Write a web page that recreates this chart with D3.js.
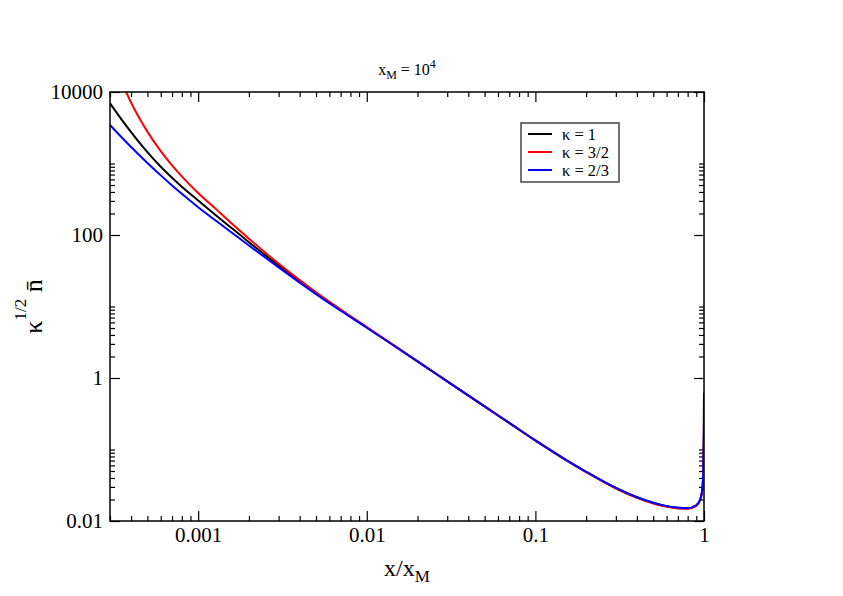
<!DOCTYPE html>
<html>
<head>
<meta charset="utf-8">
<script src="https://cdn.jsdelivr.net/npm/d3@7"></script>
<style>
  body { margin: 0; background: #fff; }
  text { font-family: "Liberation Serif", "Times New Roman", serif; fill: #000; }
</style>
</head>
<body>
<div id="chart"></div>
<script>
var w = 843;
var h = 596;
var plot = {l: 110, r: 704, t: 92, b: 521};

// x / x_M sample points
var xs = [3e-4, 3.5e-4, 4e-4, 5e-4, 6e-4, 7e-4, 8e-4, 1e-3, 1.3e-3, 1.6e-3, 2e-3, 2.8e-3,
          4e-3, 5e-3, 7e-3, 0.01, 0.015, 0.02, 0.03, 0.05, 0.07, 0.1, 0.15, 0.2, 0.3,
          0.4, 0.5, 0.6, 0.7, 0.8, 0.9, 0.95, 0.98, 0.99, 0.995, 0.999, 0.9999];

var yKappa1 = [6950, 4169, 2754, 1445, 902, 631, 473, 304, 181, 122, 79.4, 42.4,
               22.8, 15.6, 9.02, 5.09, 2.69, 1.71, 0.897, 0.400, 0.2355, 0.134, 0.0729, 0.0488, 0.0290,
               0.0215, 0.01795, 0.01614, 0.01531, 0.0151, 0.0166, 0.020, 0.0295, 0.05, 0.1, 0.25, 0.62];

var yKappa32 = [36060, 14290, 7129, 2793, 1489, 944, 662, 387, 221, 141, 88.9, 45.4,
                23.4, 15.8, 9.06, 5.15, 2.70, 1.71, 0.895, 0.398, 0.234, 0.133, 0.0722, 0.0482, 0.0285,
                0.0211, 0.0176, 0.0158, 0.0150, 0.0148, 0.0163, 0.0197, 0.029, 0.05, 0.1, 0.25, 0.62];

var yKappa23 = [3451, 2344, 1702, 1019, 682, 493, 377, 245, 153, 106, 71.3, 39.7,
                21.6, 14.9, 8.71, 5.05, 2.69, 1.71, 0.897, 0.400, 0.2355, 0.134, 0.0729, 0.0488, 0.0290,
                0.0215, 0.01795, 0.01614, 0.01531, 0.0151, 0.0166, 0.020, 0.0295, 0.05, 0.1, 0.25, 0.62];

var seriesNames = ["\u03ba = 1", "\u03ba = 3/2", "\u03ba = 2/3"];
var seriesColors = ["#000000", "#ff0000", "#0000ff"];
var seriesValues = [yKappa1, yKappa32, yKappa23];

var xMajor = [0.001, 0.01, 0.1, 1];
var xLabels = ["0.001", "0.01", "0.1", "1"];
var yMajor = [0.01, 1, 100, 10000];
var yLabels = ["0.01", "1", "100", "10000"];
var minorMult = [2, 3, 4, 5, 6, 7, 8, 9];

var xScale = d3.scaleLog().domain([3e-4, 1]).range([plot.l, plot.r]);
var yScale = d3.scaleLog().domain([0.01, 10000]).range([plot.b, plot.t]);

// minor ticks: 2..9 per decade on x, 2..10 above each labelled major on y
var xMinor = [];
[1e-4, 1e-3, 1e-2, 1e-1].forEach(function(d) {
  minorMult.forEach(function(m) {
    var v = d * m;
    if (v >= 3e-4 && v < 1) xMinor.push(v);
  });
});
var yMinor = [];
[0.01, 1, 100].forEach(function(d) {
  minorMult.concat([10]).forEach(function(m) { yMinor.push(d * m); });
});

var svg = d3.select("#chart")
            .append("svg")
            .attr("width", w)
            .attr("height", h);

function styleAxis(g) {
  g.select(".domain").remove();
  g.selectAll(".tick line").attr("stroke", "#000").attr("stroke-width", 1.2);
  g.selectAll(".tick text").style("font-size", "21px").attr("fill", "#000");
}

// bottom
svg.append("g")
   .attr("transform", "translate(0," + plot.b + ")")
   .call(d3.axisBottom(xScale).tickValues(xMajor)
           .tickFormat(function(d, i) { return xLabels[i]; })
           .tickSizeInner(-10).tickSizeOuter(0).tickPadding(6))
   .call(styleAxis);
svg.append("g")
   .attr("transform", "translate(0," + plot.b + ")")
   .call(d3.axisBottom(xScale).tickValues(xMinor).tickFormat("")
           .tickSizeInner(-5).tickSizeOuter(0))
   .call(styleAxis);
// top
svg.append("g")
   .attr("transform", "translate(0," + plot.t + ")")
   .call(d3.axisTop(xScale).tickValues(xMajor).tickFormat("")
           .tickSizeInner(-10).tickSizeOuter(0))
   .call(styleAxis);
svg.append("g")
   .attr("transform", "translate(0," + plot.t + ")")
   .call(d3.axisTop(xScale).tickValues(xMinor).tickFormat("")
           .tickSizeInner(-5).tickSizeOuter(0))
   .call(styleAxis);
// left
svg.append("g")
   .attr("transform", "translate(" + plot.l + ",0)")
   .call(d3.axisLeft(yScale).tickValues(yMajor)
           .tickFormat(function(d, i) { return yLabels[i]; })
           .tickSizeInner(-10).tickSizeOuter(0).tickPadding(7))
   .call(styleAxis);
svg.append("g")
   .attr("transform", "translate(" + plot.l + ",0)")
   .call(d3.axisLeft(yScale).tickValues(yMinor).tickFormat("")
           .tickSizeInner(-5).tickSizeOuter(0))
   .call(styleAxis);
// right
svg.append("g")
   .attr("transform", "translate(" + plot.r + ",0)")
   .call(d3.axisRight(yScale).tickValues(yMajor).tickFormat("")
           .tickSizeInner(-10).tickSizeOuter(0))
   .call(styleAxis);
svg.append("g")
   .attr("transform", "translate(" + plot.r + ",0)")
   .call(d3.axisRight(yScale).tickValues(yMinor).tickFormat("")
           .tickSizeInner(-5).tickSizeOuter(0))
   .call(styleAxis);

svg.append("clipPath")
   .attr("id", "plot-area")
   .append("rect")
   .attr("x", plot.l)
   .attr("y", plot.t)
   .attr("width", plot.r - plot.l)
   .attr("height", plot.b - plot.t);

var line = d3.line()
             .x(function(d) { return xScale(d[0]); })
             .y(function(d) { return yScale(d[1]); })
             .curve(d3.curveMonotoneX);

svg.append("g")
   .attr("clip-path", "url(#plot-area)")
   .selectAll("path")
   .data(seriesValues)
   .enter()
   .append("path")
   .attr("d", function(ys) {
     return line(xs.map(function(x, i) { return [x, ys[i]]; }));
   })
   .attr("fill", "none")
   .attr("stroke", function(d, i) { return seriesColors[i]; })
   .attr("stroke-width", 2);

// frame
svg.append("rect")
   .attr("x", plot.l)
   .attr("y", plot.t)
   .attr("width", plot.r - plot.l)
   .attr("height", plot.b - plot.t)
   .attr("fill", "none")
   .attr("stroke", "#000")
   .attr("stroke-width", 1.5);

// title
var title = svg.append("text")
               .attr("x", (plot.l + plot.r) / 2)
               .attr("y", 75)
               .attr("text-anchor", "middle")
               .style("font-size", "16px");
title.append("tspan").text("x");
title.append("tspan").attr("dy", 4).style("font-size", "12px").text("M");
title.append("tspan").attr("dy", -4).text(" = 10");
title.append("tspan").attr("dy", -7).style("font-size", "12px").text("4");

// x axis title
var xt = svg.append("text")
            .attr("x", (plot.l + plot.r) / 2)
            .attr("y", 576)
            .attr("text-anchor", "middle")
            .style("font-size", "24px");
xt.append("tspan").text("x/x");
xt.append("tspan").attr("dy", 6).style("font-size", "17px").text("M");

// y axis title
var yt = svg.append("text")
            .attr("transform", "translate(42," + ((plot.t + plot.b) / 2) + ") rotate(-90)")
            .attr("text-anchor", "middle")
            .style("font-size", "26px");
yt.append("tspan").text("\u03ba");
yt.append("tspan").attr("dy", -16).style("font-size", "17px").text("1/2");
yt.append("tspan").attr("dy", 16).text("  n\u0304");

// legend
var legend = svg.append("g");
legend.append("rect")
      .attr("x", 521)
      .attr("y", 123)
      .attr("width", 98)
      .attr("height", 59)
      .attr("fill", "#fff")
      .attr("stroke", "#444")
      .attr("stroke-width", 1.5);
var items = legend.selectAll("g.item")
                  .data(seriesNames)
                  .enter()
                  .append("g")
                  .attr("class", "item")
                  .attr("transform", function(d, i) { return "translate(0," + (134 + i * 18) + ")"; });
items.append("line")
     .attr("x1", 528).attr("x2", 552)
     .attr("y1", 0).attr("y2", 0)
     .attr("stroke", function(d, i) { return seriesColors[i]; })
     .attr("stroke-width", 2);
items.append("text")
     .attr("x", 562)
     .attr("y", 5.5)
     .style("font-size", "16.5px")
     .text(function(d) { return d; });
</script>
</body>
</html>
